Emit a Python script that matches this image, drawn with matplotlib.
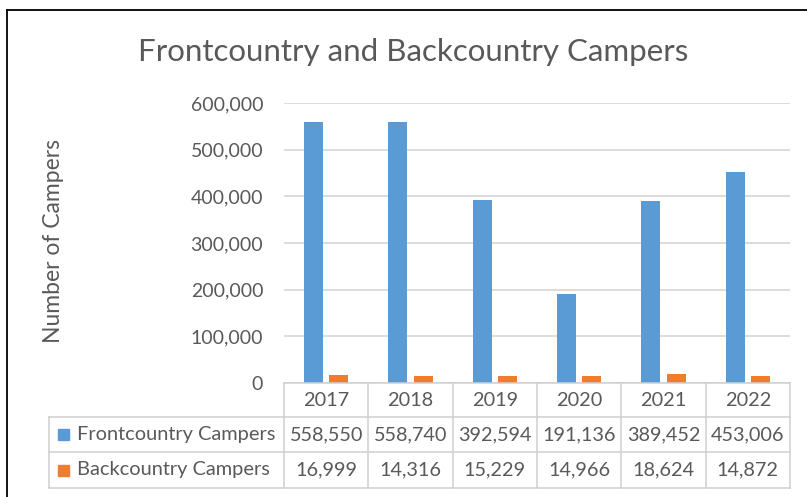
import numpy as np
import matplotlib.pyplot as plt
from matplotlib.lines import Line2D
from matplotlib.patches import Rectangle

years = ["2017", "2018", "2019", "2020", "2021", "2022"]
front = [558550, 558740, 392594, 191136, 389452, 453006]
back = [16999, 14316, 15229, 14966, 18624, 14872]
series_names = ["Frontcountry Campers", "Backcountry Campers"]
yticks = [0, 100000, 200000, 300000, 400000, 500000, 600000]

W, H = 807, 497
BLUE = "#5B9BD5"
ORANGE = "#ED7D31"
TXT = "#595959"
GRID = "#D9D9D9"

plt.rcParams['font.family'] = ['Lato', 'DejaVu Sans']

fig = plt.figure(figsize=(W / 100, H / 100), dpi=100)


def fx(x):
    return x / W


def fy(y):
    return 1 - y / H


# chart border (left/top visible, rest cropped)
fig.add_artist(Line2D([fx(7), fx(7)], [fy(497), fy(10)], color="black", lw=1.3))
fig.add_artist(Line2D([fx(7), fx(807)], [fy(10), fy(10)], color="black", lw=1.3))

# plot area
x0, x1 = 284, 790
y_top, y_bot = 103, 383
ax = fig.add_axes([fx(x0), fy(y_bot), fx(x1) - fx(x0), fy(y_top) - fy(y_bot)])
x = np.arange(len(years))
bw = 0.225
ax.bar(x - 0.15, front, bw, color=BLUE, zorder=3)
ax.bar(x + 0.15, back, bw, color=ORANGE, zorder=3)
ax.set_xlim(-0.5, len(years) - 0.5)
ax.set_ylim(0, 600000)
ax.set_yticks(yticks)
ax.set_yticklabels([f"{v:,}" for v in yticks], color=TXT, fontsize=14)
ax.tick_params(axis="y", length=0, pad=15)
ax.set_xticks([])
ax.grid(axis="y", color=GRID, lw=1.3, zorder=0)
for s in ax.spines.values():
    s.set_visible(False)

fig.text(fx(54), fy(241), "Number of Campers", rotation=90, ha="center",
         va="center", fontsize=16.5, color=TXT)
fig.text(fx(413), fy(52), "Frontcountry and Backcountry Campers",
         ha="center", va="center", fontsize=22.5, color=TXT)

# data table
tx0 = 49
col_w = (x1 - x0) / len(years)
rows = [383, 417, 452, 488]
lc = "#D0D0D0"


def hline(y, xa, xb):
    fig.add_artist(Line2D([fx(xa), fx(xb)], [fy(y), fy(y)], color=lc, lw=1.1))


def vline(xv, ya, yb):
    fig.add_artist(Line2D([fx(xv), fx(xv)], [fy(ya), fy(yb)], color=lc, lw=1.1))


hline(rows[0], x0, x1)
for r in rows[1:]:
    hline(r, tx0, x1)
vline(tx0, rows[1], rows[3])
for i in range(len(years) + 1):
    vline(x0 + i * col_w, rows[0], rows[3])

fs = 14.3
for i, yr in enumerate(years):
    cx = x0 + (i + 0.5) * col_w
    fig.text(fx(cx), fy((rows[0] + rows[1]) / 2), yr, ha="center",
             va="center", fontsize=fs, color=TXT)
    fig.text(fx(cx), fy((rows[1] + rows[2]) / 2), f"{front[i]:,}",
             ha="center", va="center", fontsize=fs, color=TXT)
    fig.text(fx(cx), fy((rows[2] + rows[3]) / 2), f"{back[i]:,}",
             ha="center", va="center", fontsize=fs, color=TXT)

for k, (name, c) in enumerate(zip(series_names, [BLUE, ORANGE])):
    cy = (rows[k + 1] + rows[k + 2]) / 2
    fig.add_artist(Rectangle((fx(58), fy(cy + 5.5)), fx(11), 11 / H,
                             color=c, transform=fig.transFigure))
    fig.text(fx(77), fy(cy), name, ha="left", va="center", fontsize=14.4,
             color=TXT)

fig.savefig("out.png", dpi=100)
